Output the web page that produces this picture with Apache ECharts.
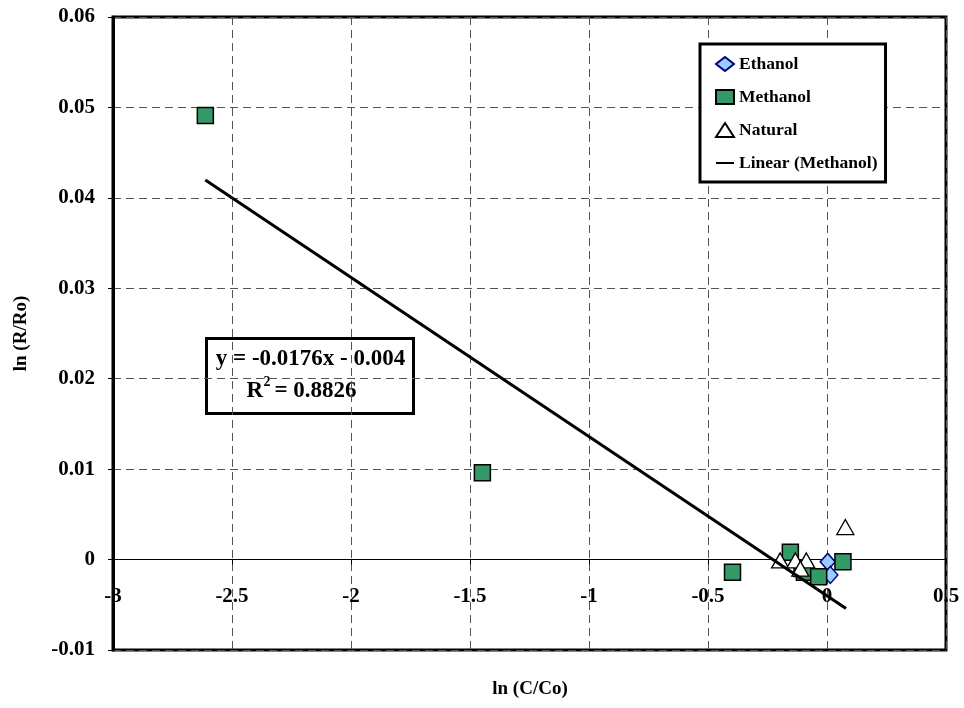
<!DOCTYPE html>
<html>
<head>
<meta charset="utf-8">
<script src="https://cdn.jsdelivr.net/npm/echarts@6/dist/echarts.min.js"></script>
<style>
  html, body { margin: 0; padding: 0; background: #fff; }
  #main { width: 964px; height: 708px; }
</style>
</head>
<body>
<div id="main"></div>
<script>
// data: [ln(C/Co), ln(R/Ro)]
var ethanol = [[0.003, -0.00025], [0.014, -0.0017]];
var methanol = [[-2.612, 0.0491], [-1.448, 0.0096], [-0.397, -0.0014], [-0.154, 0.0008],
                [-0.105, -0.0010], [-0.095, -0.0014], [-0.035, -0.0019], [0.067, -0.00025]];
var natural = [[0.077, 0.0036], [-0.197, -0.0001], [-0.133, -0.0001], [-0.087, -0.0001], [-0.112, -0.001]];
// trendline from the equation shown on the chart
var slope = -0.0176, intercept = -0.004;
var trendX = [-2.612, 0.08];
var trend = trendX.map(function (x) { return [x, slope * x + intercept]; });

var font = 'Liberation Serif';
var gridTop = 17, gridBottom = 58, chartH = 708;
// the x axis is drawn on the y = 0 line, so shift it up from the grid bottom
var plotH = chartH - gridTop - gridBottom;
var zeroOffset = -plotH * (0 - (-0.01)) / (0.06 - (-0.01));

var myChart = echarts.init(document.getElementById('main'));
var option = {
    animation: false,
    backgroundColor: '#fff',
    textStyle: { fontFamily: font },
    grid: {
        left: 113, right: 18, top: gridTop, bottom: gridBottom,
        outerBoundsMode: 'none',
        show: true, borderColor: '#000', borderWidth: 3
    },
    legend: {
        orient: 'vertical',
        left: 700, top: 44,
        padding: [11, 8, 10, 15],
        itemGap: 15,
        itemWidth: 18, itemHeight: 14,
        borderColor: '#000', borderWidth: 3,
        backgroundColor: '#fff',
        textStyle: { fontFamily: font, fontWeight: 'bold', fontSize: 17.5, color: '#000' },
        data: ['Ethanol', 'Methanol', 'Natural', 'Linear (Methanol)']
    },
    xAxis: {
        type: 'value',
        min: -3, max: 0.5, interval: 0.5,
        offset: zeroOffset,
        axisLine: { onZero: false, lineStyle: { color: '#000', width: 1 } },
        axisTick: { show: true, length: 5, lineStyle: { color: '#000' } },
        axisLabel: { margin: 27, fontFamily: font, fontWeight: 'bold', fontSize: 21, color: '#000' },
        splitLine: { show: true, lineStyle: { color: '#555', type: [8, 5], width: 1 } }
    },
    yAxis: {
        type: 'value',
        min: -0.01, max: 0.06, interval: 0.01,
        name: 'ln (R/Ro)',
        nameLocation: 'middle',
        nameGap: 82,
        nameTextStyle: { fontFamily: font, fontWeight: 'bold', fontSize: 19, color: '#000' },
        axisLine: { onZero: false, lineStyle: { color: '#000', width: 3 } },
        axisTick: { show: true, length: 5, lineStyle: { color: '#000' } },
        axisLabel: { margin: 18, fontFamily: font, fontWeight: 'bold', fontSize: 21, color: '#000' },
        splitLine: { show: true, lineStyle: { color: '#555', type: [8, 5], width: 1 } }
    },
    series: [
        {
            name: 'Ethanol', type: 'scatter', symbol: 'diamond', symbolSize: [15, 17],
            itemStyle: { color: '#99ccff', borderColor: '#000080', borderWidth: 1.5, opacity: 1 },
            data: ethanol
        },
        {
            name: 'Methanol', type: 'scatter', symbol: 'rect', symbolSize: 16,
            itemStyle: { color: '#339966', borderColor: '#000', borderWidth: 1.5, opacity: 1 },
            data: methanol
        },
        {
            name: 'Natural', type: 'scatter', symbol: 'triangle', symbolSize: [17, 15],
            itemStyle: { color: '#fff', borderColor: '#000', borderWidth: 1.3, opacity: 1 },
            data: natural
        },
        {
            name: 'Linear (Methanol)', type: 'line', symbol: 'none',
            lineStyle: { color: '#000', width: 3 },
            itemStyle: { color: 'rgba(0,0,0,0)', borderColor: 'rgba(0,0,0,0)' },
            data: trend
        }
    ],
    graphic: [
        {
            type: 'text', x: 530, y: 689,
            style: { text: 'ln (C/Co)', fontFamily: font, fontWeight: 'bold', fontSize: 19, fill: '#000',
                     align: 'center', verticalAlign: 'middle' }
        },
        {
            type: 'group', left: 205, top: 337,
            children: [{
                type: 'rect', shape: { x: 0, y: 0, width: 207, height: 75 },
                style: { fill: '#fff', stroke: '#000', lineWidth: 3 }
            }, {
                type: 'text', x: 104, y: 21,
                style: { text: 'y = -0.0176x - 0.004', fontFamily: font, fontWeight: 'bold', fontSize: 23,
                         fill: '#000', align: 'center', verticalAlign: 'middle' }
            }, {
                type: 'text', x: 40, y: 53,
                style: { text: 'R', fontFamily: font, fontWeight: 'bold', fontSize: 23,
                         fill: '#000', align: 'left', verticalAlign: 'middle' }
            }, {
                type: 'text', x: 57, y: 44,
                style: { text: '2', fontFamily: font, fontWeight: 'bold', fontSize: 14,
                         fill: '#000', align: 'left', verticalAlign: 'middle' }
            }, {
                type: 'text', x: 68, y: 53,
                style: { text: '= 0.8826', fontFamily: font, fontWeight: 'bold', fontSize: 23,
                         fill: '#000', align: 'left', verticalAlign: 'middle' }
            }]
        }
    ]
};
myChart.setOption(option);
</script>
</body>
</html>
